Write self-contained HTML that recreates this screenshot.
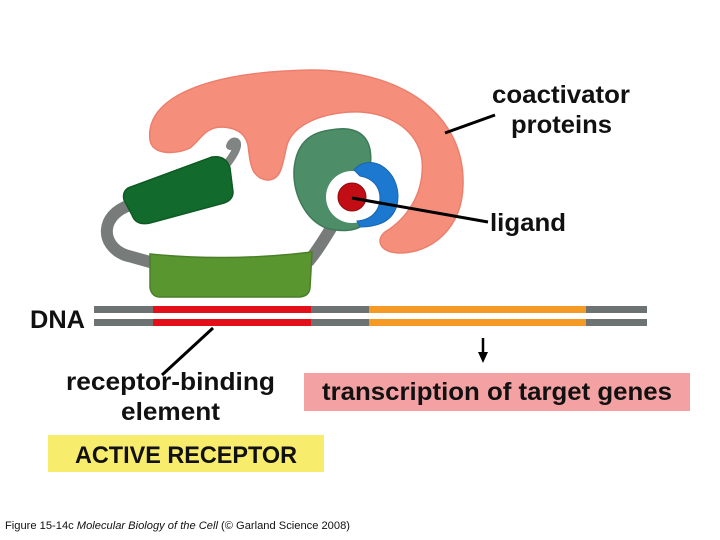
<!DOCTYPE html>
<html><head><meta charset="utf-8"><style>
html,body{margin:0;padding:0;background:#fff;width:720px;height:540px;overflow:hidden}
svg{display:block}
text{font-family:"Liberation Sans",sans-serif;font-weight:bold;fill:#111}
</style></head><body>
<svg width="720" height="540" viewBox="0 0 720 540" xmlns="http://www.w3.org/2000/svg">
<!-- coactivator -->
<path d="M150,140 C145,100 200,72 310,70 C410,70 465,120 463,185 C462,230 430,253 400,253 C380,253 375,240 385,232 C405,220 425,195 422,160 C418,128 385,110 350,112 C315,114 292,128 287,145 C282,165 282,180 267,180 C250,178 250,160 248,145 C245,132 235,127 220,127 C205,128 200,140 190,148 C175,155 152,155 150,140 Z" fill="#f58f7c" stroke="#ec7f6c" stroke-width="1.5"/>
<!-- gray arm -->
<path d="M130,205 C100,215 100,245 125,255 L150,262" fill="none" stroke="#777b7a" stroke-width="12" stroke-linecap="round"/>
<path d="M308,262 C318,250 325,238 333,225" fill="none" stroke="#777b7a" stroke-width="12"/>
<path d="M224,168 C230,160 236,152 237,146 C238,140 232,140 230,146" fill="none" stroke="#808483" stroke-width="8" stroke-linecap="round"/>
<!-- dark green block -->
<path d="M128,188 L212,157 Q226,155 230,168 L233,192 Q233,200 224,203 L150,223 Q136,226 132,215 L124,200 Q122,192 128,188 Z" fill="#126b2c" stroke="#0e5a24" stroke-width="1.5"/>
<!-- lower green -->
<path d="M150,254 Q230,262 312,252 L310,288 Q309,296 300,297 L160,297 Q152,297 150,288 Z" fill="#5a9630" stroke="#4a7f28" stroke-width="1.5"/>
<!-- head -->
<path d="M330,130 C362,124 374,140 370,168 L366,222 C358,232 340,232 326,228 C306,220 293,195 294,170 C296,145 308,133 330,130 Z" fill="#4d8e68" stroke="#3f7a58" stroke-width="1.5"/>
<circle cx="352" cy="197" r="26" fill="#fff"/>
<!-- blue crescent -->
<path d="M354,170 C360,162 372,160 382,166 C396,175 400,192 397,205 C393,220 380,227 360,227 L357,221 C372,220 380,210 380,198 C380,186 372,178 360,176 Z" fill="#1d78d0" stroke="#1865b0" stroke-width="1"/>
<circle cx="352" cy="197" r="14" fill="#c20d14" stroke="#8f0a0e" stroke-width="1"/>
<!-- DNA -->
<rect x="94" y="306" width="553" height="7" fill="#6d7272"/>
<rect x="94" y="319" width="553" height="7" fill="#6d7272"/>
<rect x="153" y="306" width="158" height="7" fill="#e3101a"/>
<rect x="153" y="319" width="158" height="7" fill="#e3101a"/>
<rect x="369" y="306" width="217" height="7" fill="#f59a24"/>
<rect x="369" y="319" width="217" height="7" fill="#f59a24"/>
<!-- pointers -->
<line x1="445" y1="133" x2="495" y2="115" stroke="#000" stroke-width="3"/>
<line x1="352" y1="198" x2="488" y2="222" stroke="#000" stroke-width="3"/>
<line x1="213" y1="328" x2="162" y2="375" stroke="#000" stroke-width="3"/>
<line x1="483" y1="338" x2="483" y2="354" stroke="#000" stroke-width="2.5"/>
<polygon points="478,352 488,352 483,363" fill="#000"/>
<!-- boxes -->
<rect x="304" y="373" width="386" height="38" fill="#f4a1a3"/>
<rect x="48" y="435" width="276" height="37" fill="#f8ec6c"/>
<!-- text -->
<text x="492" y="103" font-size="25" textLength="138" lengthAdjust="spacingAndGlyphs">coactivator</text>
<text x="511" y="133" font-size="25" textLength="101" lengthAdjust="spacingAndGlyphs">proteins</text>
<text x="490" y="231" font-size="25" textLength="76" lengthAdjust="spacingAndGlyphs">ligand</text>
<text x="30" y="328" font-size="25" textLength="55" lengthAdjust="spacingAndGlyphs">DNA</text>
<text x="66" y="390" font-size="25" textLength="209" lengthAdjust="spacingAndGlyphs">receptor-binding</text>
<text x="121" y="420" font-size="25" textLength="99" lengthAdjust="spacingAndGlyphs">element</text>
<text x="322" y="400" font-size="25" textLength="350" lengthAdjust="spacingAndGlyphs">transcription of target genes</text>
<text x="75" y="463" font-size="24" textLength="222" lengthAdjust="spacingAndGlyphs">ACTIVE RECEPTOR</text>
<text x="5" y="529" font-size="11" style="font-weight:normal" textLength="345" lengthAdjust="spacingAndGlyphs">Figure 15-14c <tspan font-style="italic">Molecular Biology of the Cell</tspan> (© Garland Science 2008)</text>
</svg>
</body></html>
